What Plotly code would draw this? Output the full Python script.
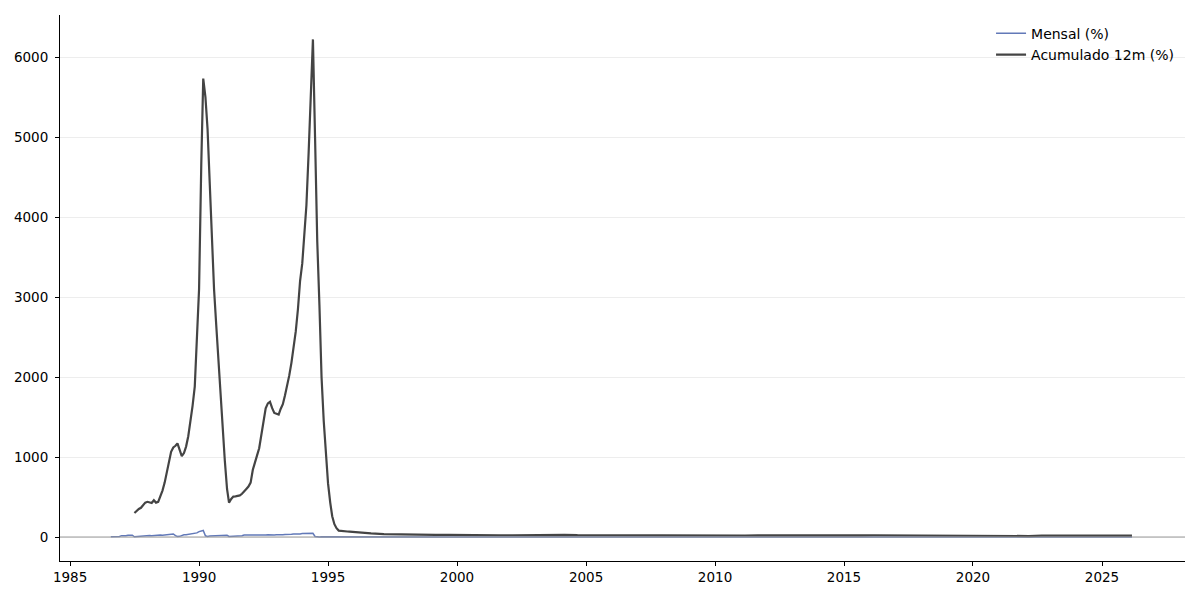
import pandas as pd
import plotly.graph_objects as go

# variação mensal (%), ago/1986 a dez/1995
mensal_86_95 = [
    1.68, 1.72, 1.90, 3.29, 7.27,
    16.82, 13.94, 14.40, 20.96, 23.21, 21.84, 3.12, 6.36, 5.68, 9.18, 12.84, 14.14,
    16.51, 17.96, 16.01, 19.28, 17.78, 19.53, 24.04, 20.66, 24.01, 27.25, 26.92, 28.79,
    37.49, 16.78, 6.82, 8.33, 17.92, 28.65, 27.75, 33.71, 37.56, 39.77, 47.82, 51.50,
    67.55, 75.73, 82.39, 15.52, 7.59, 11.75, 12.92, 12.88, 14.41, 14.36, 16.81, 18.44,
    19.91, 21.87, 7.25, 8.74, 6.52, 9.86, 12.83, 15.49, 16.19, 25.85, 25.76, 22.14,
    24.79, 24.11, 20.84, 18.53, 22.45, 21.42, 21.69, 25.54, 27.37, 24.94, 24.22, 23.70,
    28.73, 26.51, 27.81, 28.21, 32.27, 30.72, 31.96, 33.53, 36.99, 35.14, 36.96, 36.22,
    42.19, 42.41, 44.83, 42.46, 40.95, 46.58, 6.84, 1.86, 1.53, 2.62, 2.81, 1.71,
    1.70, 1.02, 1.55, 2.43, 2.67, 2.26, 2.36, 0.99, 0.99, 1.41, 1.47, 1.56,
]

# acumulado em 12 meses (%), jul/1987 a dez/1995
acum_87_95 = [
    300, 330, 350, 365, 400, 430,
    440, 430, 425, 460, 430, 440, 510, 580, 680, 800, 940, 1065,
    1120, 1140, 1170, 1090, 1010, 1050, 1130, 1260, 1430, 1640, 1880, 2400,
    3100, 4650, 5730, 5500, 5100, 4420, 3720, 3100, 2650, 2200, 1750, 1330,
    950, 600, 430, 475, 505, 508, 512, 520, 540, 565, 600, 630,
    680, 840, 940, 1020, 1110, 1280, 1480, 1610, 1670, 1690, 1610, 1550,
    1540, 1530, 1600, 1660, 1770, 1890, 2020, 2180, 2360, 2570, 2850, 3200,
    3420, 3750, 4150, 4800, 5540, 6220, 5000, 3700, 2900, 2000, 1450, 1000,
    670, 430, 260, 160, 110, 80, 75, 73, 71, 69, 67, 64,
]

# de 1996 em diante: um ponto por semestre (mar e set)
mensal_96_26 = [
    0.22, 0.08, 0.51, 0.06, 0.34, -0.22, 1.10, 0.56, 0.22, 0.23,
    0.38, 0.28, 0.60, 0.72, 0.50, 0.78, 0.47, 0.33, 0.61, 0.35,
    0.43, 0.21, 0.37, 0.18, 0.48, 0.26, 0.20, 0.24, 0.52, 0.45,
    0.79, 0.53, 0.21, 0.57, 0.47, 0.35, 0.92, 0.57, 1.32, 0.54,
    0.43, 0.08, 0.25, 0.16, 0.09, 0.48, 0.75, -0.04, 0.07, 0.64,
    0.93, 1.16, 1.62, -0.29, 0.71, 0.26, 0.16, 0.44, 0.56, 0.48,
    0.40,
]
acum_96_26 = [
    58, 45, 36, 32, 30, 28, 27, 27, 28, 25,
    23, 22, 22, 24, 28, 30, 27, 23, 22, 22,
    23, 22, 20, 19, 19, 20, 19, 17, 17, 18,
    19, 20, 19, 18, 18, 17, 17, 18, 20, 21,
    22, 21, 18, 15, 13, 12, 11, 10, 8, 6,
    6, 7, 12, 16, 18, 18, 17, 17, 18, 18,
    18,
]

datas_mensal = pd.date_range("1986-08-01", "1995-12-01", freq="MS")
datas_acum = pd.date_range("1987-07-01", "1995-12-01", freq="MS")
datas_sem = pd.date_range("1996-03-01", "2026-03-01", freq="6MS")

fig = go.Figure()

fig.add_trace(go.Scatter(
    x=list(datas_mensal) + list(datas_sem),
    y=mensal_86_95 + mensal_96_26,
    mode="lines", name="Mensal (%)",
    line=dict(color="#6279b8", width=1.5)))

fig.add_trace(go.Scatter(
    x=list(datas_acum) + list(datas_sem),
    y=acum_87_95 + acum_96_26,
    mode="lines", name="Acumulado 12m (%)",
    line=dict(color="#444444", width=2.2)))

# linha do zero por cima das séries
fig.add_shape(type="line", xref="paper", x0=0, x1=1, yref="y", y0=0, y1=0,
              line=dict(color="#9a9a9a", width=1), layer="above")

fig.update_layout(
    width=1200, height=600,
    margin=dict(l=52, r=23, t=7, b=47),
    plot_bgcolor="white", paper_bgcolor="white",
    font=dict(family="DejaVu Sans", size=13.5, color="black"),
    legend=dict(x=0.8276, y=0.995, xanchor="left", yanchor="top",
                bgcolor="rgba(0,0,0,0)", font=dict(size=14)),
)

fig.update_xaxes(
    type="date", range=["1984-08-11", "2028-03-21"],
    tick0="1985-01-01", dtick="M60", tickformat="%Y",
    showline=True, linecolor="black", linewidth=1,
    ticks="outside", ticklen=4, tickcolor="black",
    showgrid=False, zeroline=False)

fig.update_yaxes(
    range=[-300, 6525], tickvals=[0, 1000, 2000, 3000, 4000, 5000, 6000],
    tickformat="d", ticklabelstandoff=4,
    showline=True, linecolor="black", linewidth=1,
    ticks="outside", ticklen=4, tickcolor="black",
    showgrid=True, gridcolor="#ededed", gridwidth=1,
    zeroline=False)

fig.write_html("out.html")
